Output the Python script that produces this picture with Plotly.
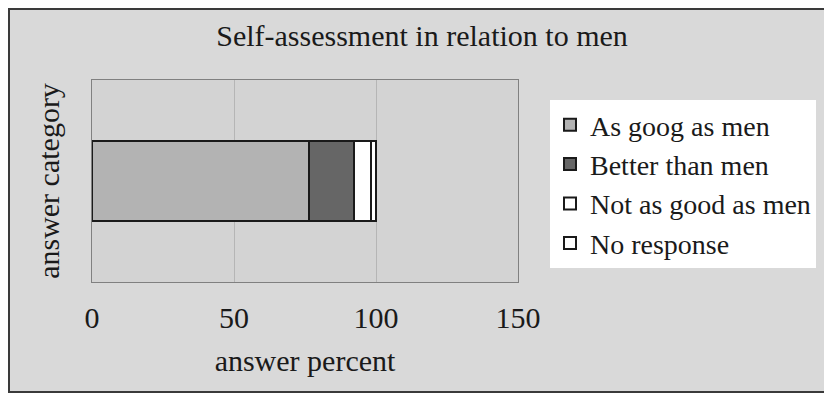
import plotly.graph_objects as go

# Data
categories = ["answer"]
series_names = ["As goog as men", "Better than men", "Not as good as men", "No response"]
series_values = [[76.4], [15.9], [5.8], [1.9]]
series_colors = ["#b3b3b3", "#666666", "#ffffff", "#ffffff"]
x_ticks = [0, 50, 100, 150]

# page body has an 8px margin, so the figure is sized to fit inside it
W, H = 816, 385
L, R, T, B = 84, 306, 72, 111
plot_w = W - L - R
plot_h = H - T - B

fig = go.Figure()
for name, vals, col in zip(series_names, series_values, series_colors):
    fig.add_trace(
        go.Bar(
            y=categories,
            x=vals,
            name=name,
            orientation="h",
            marker=dict(color=col, line=dict(color="#1a1a1a", width=2)),
        )
    )


def px_x(px):
    return (px - L) / plot_w


def px_y(py):
    return (H - B - py) / plot_h


# Outer frame (left, top, bottom edges)
frame = dict(type="line", xref="paper", yref="paper", line=dict(color="#3a3a3a", width=2))
fig.add_shape(x0=px_x(1), x1=px_x(1), y0=px_y(0), y1=px_y(H), **frame)
fig.add_shape(x0=px_x(0), x1=px_x(W), y0=px_y(1), y1=px_y(1), **frame)
fig.add_shape(x0=px_x(0), x1=px_x(W), y0=px_y(H - 1), y1=px_y(H - 1), **frame)

fig.update_layout(
    width=W,
    height=H,
    barmode="stack",
    bargap=0.6,
    margin=dict(l=L, r=R, t=T, b=B, autoexpand=False),
    paper_bgcolor="#d9d9d9",
    plot_bgcolor="#d3d3d3",
    font=dict(family="Liberation Serif", size=30, color="#1a1a1a"),
    title=dict(
        text="Self-assessment in relation to men",
        x=414 / W,
        xanchor="center",
        y=1 - 27 / H,
        yanchor="middle",
        font=dict(size=30),
    ),
    legend=dict(
        x=px_x(542),
        y=px_y(92),
        xanchor="left",
        yanchor="top",
        bgcolor="#ffffff",
        traceorder="normal",
        font=dict(size=28),
        itemwidth=30,
    ),
    showlegend=True,
)

fig.update_xaxes(
    range=[0, 150],
    tickvals=x_ticks,
    showgrid=True,
    gridcolor="#b5b5b5",
    gridwidth=1,
    zeroline=False,
    showline=True,
    linecolor="#808080",
    mirror=True,
    ticks="",
    ticklabelstandoff=9,
    title=dict(text="answer percent", standoff=16, font=dict(size=30)),
    fixedrange=True,
)
fig.update_yaxes(
    showticklabels=False,
    showgrid=False,
    showline=True,
    linecolor="#808080",
    mirror=True,
    title=dict(text="answer category", standoff=22, font=dict(size=30)),
    fixedrange=True,
)

fig.write_html("out.html")
